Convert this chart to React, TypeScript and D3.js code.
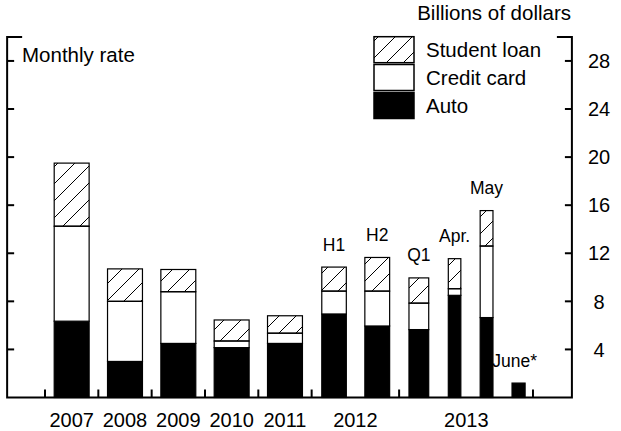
import React from "react";
import * as d3 from "d3";

// ---- data ----
const categories = ["2007", "2008", "2009", "2010", "2011", "H1", "H2", "Q1", "Apr.", "May", "June*"];
const barLabels = ["", "", "", "", "", "H1", "H2", "Q1", "Apr.", "May", "June*"];
const autoVals = [6.35, 3.0, 4.5, 4.15, 4.5, 6.95, 5.95, 5.65, 8.5, 6.65, 1.2];
const creditVals = [7.9, 5.0, 4.3, 0.55, 0.85, 1.9, 2.9, 2.2, 0.55, 5.95, 0];
const studentVals = [5.25, 2.7, 1.85, 1.75, 1.45, 2.0, 2.8, 2.1, 2.5, 2.95, 0];
const yTicks = [4, 8, 12, 16, 20, 24, 28];
const groupLabels = ["2007", "2008", "2009", "2010", "2011", "2012", "2013"];
const seriesNames = ["Student loan", "Credit card", "Auto"];

// ---- layout (slot units along the x axis) ----
const barCenters = [0.5, 1.5, 2.5, 3.5, 4.5, 5.42, 6.23, 7.01, 7.68, 8.28, 8.88];
const barWidths = [0.655, 0.655, 0.655, 0.655, 0.655, 0.46, 0.465, 0.37, 0.235, 0.24, 0.245];
const groupCenters = [0.5, 1.5, 2.5, 3.5, 4.5, 5.82, 7.9];
const sepTicks = [0, 1, 2, 3, 4, 5, 6.64, 9.15];

const W = 621;
const H = 431;
const FONT = "'Liberation Sans', Arial, Helvetica, sans-serif";

export default function App() {
  const x = d3.scaleLinear().domain([0, 10]).range([45, 578.3]);
  const y = d3.scaleLinear().domain([0, 30]).range([397.5, 36.9]);
  const axL = x(-0.71);
  const axR = x(9.88);
  const y0 = y(0);
  const yTop = y(30);

  const stackData = categories.map((c, i) => ({
    cat: c,
    auto: autoVals[i],
    credit: creditVals[i],
    student: studentVals[i],
  }));
  const stack = d3.stack<any>().keys(["auto", "credit", "student"]);
  const layers = stack(stackData);
  const fills: Record<string, string> = {
    auto: "#000",
    credit: "#fff",
    student: "url(#hatch)",
  };

  const legendX = 374;
  const legendY = [36.7, 64.5, 92.5];
  const legendFills = ["url(#hatchL)", "#fff", "#000"];

  return (
    <svg
      width={W}
      height={H}
      style={{ position: "absolute", left: 0, top: 0, background: "#fff" }}
      fontFamily={FONT}
    >
      <defs>
        <pattern id="hatch" patternUnits="userSpaceOnUse" width={17} height={17}>
          <path d="M0,17 L17,0 M-4,4 L4,-4 M13,21 L21,13" stroke="#000" strokeWidth={1} />
        </pattern>
        <pattern id="hatchL" patternUnits="userSpaceOnUse" width={17} height={17} x={legendX + 4} y={3}>
          <path d="M0,17 L17,0 M-4,4 L4,-4 M13,21 L21,13" stroke="#000" strokeWidth={1} />
        </pattern>
      </defs>
      <rect x={0} y={0} width={W} height={H} fill="#fff" />

      {/* bars */}
      {layers.map((layer) =>
        layer.map((d, i) => {
          const v = d[1] - d[0];
          if (v <= 0) return null;
          const cx = x(barCenters[i]);
          const bw = x(barWidths[i]) - x(0);
          return (
            <rect
              key={layer.key + i}
              x={cx - bw / 2}
              y={y(d[1])}
              width={bw}
              height={y(d[0]) - y(d[1])}
              fill={fills[layer.key]}
              stroke="#000"
              strokeWidth={1.2}
            />
          );
        })
      )}

      {/* bar labels */}
      {barLabels.map((lab, i) => {
        if (!lab) return null;
        const top = autoVals[i] + creditVals[i] + studentVals[i];
        const dx = lab === "June*" ? -4 : 0;
        return (
          <text
            key={"bl" + i}
            x={x(barCenters[i]) + dx}
            y={y(top) - 16.5}
            textAnchor="middle"
            fontSize={17.5}
            fill="#000"
          >
            {lab}
          </text>
        );
      })}

      {/* axes frame */}
      <path
        d={`M${axL + 15},${yTop} H${axL} V${y0} H${axR} V${yTop} H${axR - 15}`}
        fill="none"
        stroke="#000"
        strokeWidth={2}
      />
      {yTicks.map((t) => (
        <g key={"yt" + t}>
          <line x1={axL} x2={axL + 7} y1={y(t)} y2={y(t)} stroke="#000" strokeWidth={2} />
          <line x1={axR - 7} x2={axR} y1={y(t)} y2={y(t)} stroke="#000" strokeWidth={2} />
          <text x={599} y={y(t) + 7.2} textAnchor="middle" fontSize={20} fill="#000">
            {t}
          </text>
        </g>
      ))}
      {sepTicks.map((s, i) => (
        <line key={"st" + i} x1={x(s)} x2={x(s)} y1={y0} y2={y0 - 8} stroke="#000" strokeWidth={2} />
      ))}

      {/* x labels */}
      {groupLabels.map((g, i) => (
        <text key={"gl" + i} x={x(groupCenters[i])} y={426.5} textAnchor="middle" fontSize={20} fill="#000">
          {g}
        </text>
      ))}

      {/* titles */}
      <text x={22} y={62} fontSize={20.5} fill="#000">
        Monthly rate
      </text>
      <text x={571} y={19.5} textAnchor="end" fontSize={20.5} fill="#000">
        Billions of dollars
      </text>

      {/* legend */}
      {seriesNames.map((n, i) => (
        <g key={"lg" + i}>
          <rect
            x={legendX}
            y={legendY[i]}
            width={40}
            height={26}
            fill={legendFills[i]}
            stroke="#000"
            strokeWidth={1.5}
          />
          <text x={426} y={legendY[i] + 20.6} fontSize={20.5} fill="#000">
            {n}
          </text>
        </g>
      ))}
    </svg>
  );
}
